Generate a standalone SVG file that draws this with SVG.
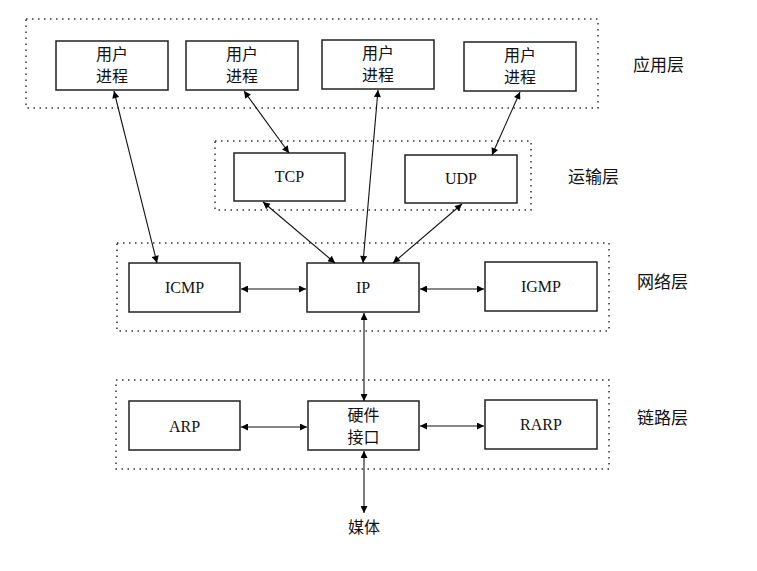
<svg xmlns="http://www.w3.org/2000/svg" width="757" height="571" viewBox="0 0 757 571">
<style>
.layer{fill:none;stroke:#333;stroke-width:1.5;stroke-dasharray:1.5 4.5}
.box{fill:#fff;stroke:#222;stroke-width:1.5}
.en{font-family:"Liberation Serif",serif;font-size:16px;fill:#111;text-anchor:middle}
.zh{font-family:"Noto Sans CJK SC","Noto Sans CJK JP",sans-serif;font-size:16px;fill:#111;text-anchor:middle}
.lbl{font-family:"Noto Sans CJK SC","Noto Sans CJK JP",sans-serif;font-size:17px;fill:#111}
.c{fill:none;stroke:#111;stroke-width:1.1;marker-start:url(#a);marker-end:url(#a)}
</style>
<defs>
<marker id="a" viewBox="0 0 10 10" refX="10" refY="5" markerWidth="9" markerHeight="7" markerUnits="userSpaceOnUse" orient="auto-start-reverse">
<path d="M0,0 L10,5 L0,10 z" fill="#000"/>
</marker>
</defs>
<g id="layers">
<rect class="layer" x="26" y="19" width="572" height="89"/>
<rect class="layer" x="215" y="141" width="316" height="69"/>
<rect class="layer" x="117" y="243" width="492" height="88"/>
<rect class="layer" x="116" y="380" width="493" height="89"/>
</g>
<g id="layer-labels">
<text class="lbl" x="633" y="71">应用层</text>
<text class="lbl" x="568" y="183">运输层</text>
<text class="lbl" x="637" y="288">网络层</text>
<text class="lbl" x="637" y="424">链路层</text>
</g>
<g id="user1"><rect class="box" x="56" y="41" width="112" height="49"/><text class="zh" x="112" y="60">用户</text><text class="zh" x="112" y="82">进程</text></g>
<g id="user2"><rect class="box" x="186" y="41" width="112" height="49"/><text class="zh" x="242" y="60">用户</text><text class="zh" x="242" y="82">进程</text></g>
<g id="user3"><rect class="box" x="322" y="40" width="112" height="49"/><text class="zh" x="378" y="59">用户</text><text class="zh" x="378" y="81">进程</text></g>
<g id="user4"><rect class="box" x="464" y="42" width="112" height="49"/><text class="zh" x="520" y="61">用户</text><text class="zh" x="520" y="83">进程</text></g>
<g id="tcp"><rect class="box" x="234" y="153" width="111" height="48"/><text class="en" x="289.5" y="182">TCP</text></g>
<g id="udp"><rect class="box" x="405" y="155" width="112" height="48"/><text class="en" x="461" y="184">UDP</text></g>
<g id="icmp"><rect class="box" x="129" y="263" width="111" height="49"/><text class="en" x="184.5" y="293">ICMP</text></g>
<g id="ip"><rect class="box" x="307" y="263" width="112" height="49"/><text class="en" x="363" y="293">IP</text></g>
<g id="igmp"><rect class="box" x="485" y="262" width="112" height="49"/><text class="en" x="541" y="292">IGMP</text></g>
<g id="arp"><rect class="box" x="129" y="401" width="111" height="49"/><text class="en" x="184.5" y="432">ARP</text></g>
<g id="hw"><rect class="box" x="308" y="401" width="111" height="49"/><text class="zh" x="363.5" y="421">硬件</text><text class="zh" x="363.5" y="443">接口</text></g>
<g id="rarp"><rect class="box" x="485" y="400" width="112" height="49"/><text class="en" x="541" y="430">RARP</text></g>
<g id="media"><text class="zh" x="364" y="533">媒体</text></g>
<g id="connectors">
<line class="c" x1="114" y1="91" x2="157" y2="263"/>
<line class="c" x1="244" y1="91" x2="289" y2="153"/>
<line class="c" x1="378" y1="90" x2="363" y2="263"/>
<line class="c" x1="520" y1="92" x2="492" y2="155"/>
<line class="c" x1="263" y1="202" x2="335" y2="263"/>
<line class="c" x1="462" y1="204" x2="393" y2="263"/>
<line class="c" x1="241" y1="289" x2="306" y2="289"/>
<line class="c" x1="420" y1="289" x2="484" y2="289"/>
<line class="c" x1="364" y1="313" x2="364" y2="401"/>
<line class="c" x1="241" y1="427" x2="307" y2="427"/>
<line class="c" x1="420" y1="426" x2="484" y2="426"/>
<line class="c" x1="364" y1="451" x2="364" y2="513"/>
</g>
</svg>
